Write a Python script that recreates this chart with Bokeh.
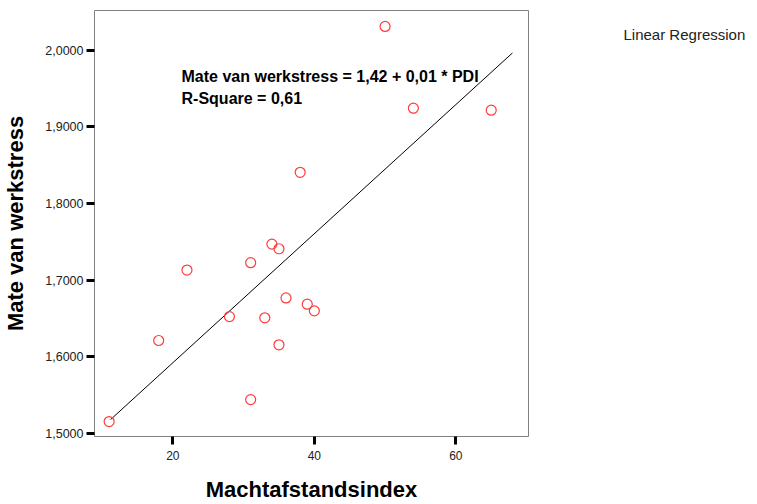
from bokeh.plotting import figure
from bokeh.layouts import row
from bokeh.models import Range1d, FixedTicker, CustomJSTickFormatter, Label, ColumnDataSource
from bokeh.embed import file_html
from bokeh.resources import INLINE

# Data
pdi = [11, 18, 22, 28, 31, 31, 33, 35, 36, 34, 35, 38, 50, 54, 65, 39, 40]
stress = [1.5152, 1.6211, 1.7131, 1.6523, 1.7227, 1.5439, 1.6507, 1.6155, 1.6767,
          1.7470, 1.7409, 1.8408, 2.0313, 1.9245, 1.9219, 1.6685, 1.6598]

intercept = 1.4234
slope = 0.00843
fit_x = [11.2, 68.0]

x_ticks = [20, 40, 60]
y_ticks = [1.5, 1.6, 1.7, 1.8, 1.9, 2.0]

equation = "Mate van werkstress = 1,42 + 0,01 * PDI"
rsquare = "R-Square = 0,61"
legend_text = "Linear Regression"

FONT = "Liberation Sans"

p = figure(width=540, height=504, output_backend="svg", toolbar_location=None,
           x_range=Range1d(8.93, 70.27), y_range=Range1d(1.4957, 2.0521),
           min_border_left=94, min_border_right=12, min_border_top=10, min_border_bottom=67)

p.xgrid.visible = False
p.ygrid.visible = False
p.outline_line_color = "#808080"
p.outline_line_width = 1
p.background_fill_color = "white"
p.border_fill_color = "white"

fit_y = [intercept + slope * x for x in fit_x]
p.line(fit_x, fit_y, line_color="black", line_width=1)

src = ColumnDataSource(dict(x=pdi, y=stress))
p.scatter("x", "y", source=src, marker="circle", size=10, fill_color=None,
          line_color="#ff3b3b", line_width=1.2)

for ax in (p.xaxis[0], p.yaxis[0]):
    ax.axis_line_color = None
    ax.major_tick_line_color = "black"
    ax.major_tick_line_width = 3
    ax.major_tick_out = 8
    ax.major_tick_in = 0
    ax.minor_tick_line_color = None
    ax.major_label_text_font = FONT
    ax.major_label_text_font_size = "12px"
    ax.major_label_text_color = "#222222"
    ax.axis_label_text_font = FONT
    ax.axis_label_text_font_style = "bold"
    ax.axis_label_text_font_size = "22px"
    ax.axis_label_text_color = "black"

p.yaxis.major_label_text_font_size = "12.5px"
p.xaxis.ticker = FixedTicker(ticks=x_ticks)
p.yaxis.ticker = FixedTicker(ticks=y_ticks)
p.yaxis.formatter = CustomJSTickFormatter(code="return tick.toFixed(4).replace('.', ',');")
p.xaxis.formatter = CustomJSTickFormatter(code="return tick.toFixed(0);")
p.xaxis.axis_label = "Machtafstandsindex"
p.yaxis.axis_label = "Mate van werkstress"
p.xaxis.major_label_standoff = 6
p.yaxis.major_label_standoff = 3
p.xaxis.axis_label_standoff = 14
p.yaxis.axis_label_standoff = 14

p.add_layout(Label(x=21.23, y=1.9655, text=equation, text_font=FONT, text_font_style="bold",
                   text_font_size="16px", text_baseline="middle", text_color="black"))
p.add_layout(Label(x=21.23, y=1.9368, text=rsquare, text_font=FONT, text_font_style="bold",
                   text_font_size="16px", text_baseline="middle", text_color="black"))

# side panel holding the fit-line legend text
q = figure(width=217, height=504, output_backend="svg", toolbar_location=None,
           x_range=Range1d(0, 217), y_range=Range1d(0, 504),
           min_border_left=0, min_border_right=0, min_border_top=0, min_border_bottom=0)
q.axis.visible = False
q.xgrid.visible = False
q.ygrid.visible = False
q.outline_line_color = None
q.border_fill_color = "white"
q.add_layout(Label(x=83, y=476, text=legend_text, text_font=FONT,
                   text_font_size="15px", text_baseline="middle", text_color="#222222"))

layout = row(p, q, spacing=0)
open("out.html", "w").write(file_html(layout, INLINE))
